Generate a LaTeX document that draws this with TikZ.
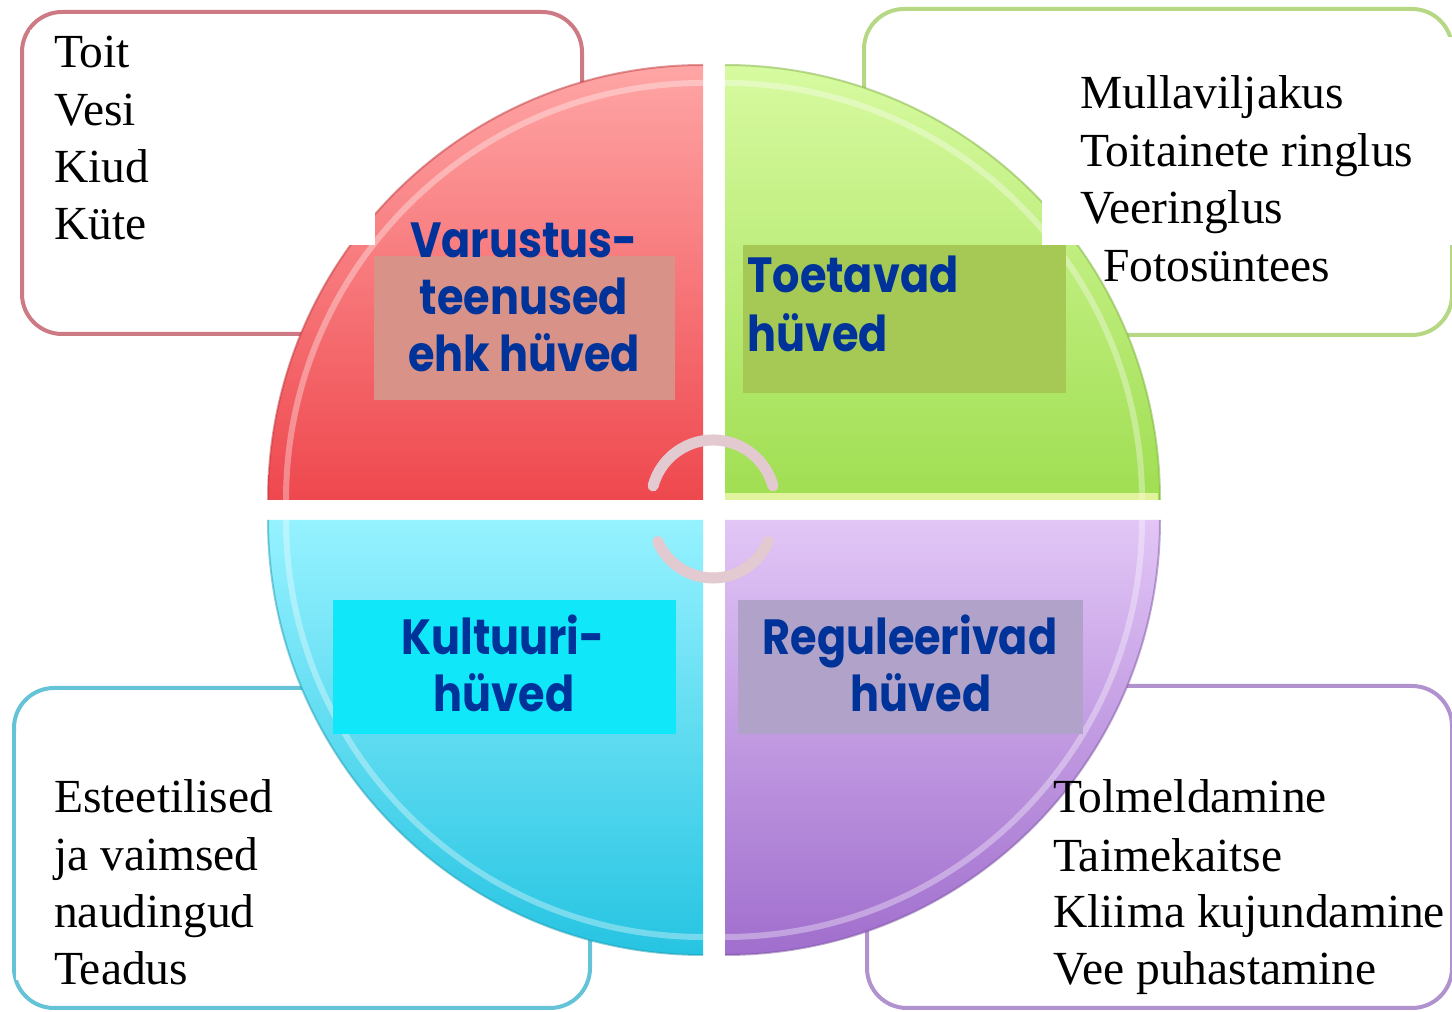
\documentclass[tikz,border=0pt]{standalone}
\usepackage{fontspec}
\setmainfont{Liberation Serif}
\newfontfamily\labelfont{Poppins}
\definecolor{labblue}{RGB}{0,51,153}
\definecolor{redtop}{RGB}{255,165,165}
\definecolor{redbot}{RGB}{238,72,78}
\definecolor{greentop}{RGB}{215,250,160}
\definecolor{greenbot}{RGB}{160,222,82}
\definecolor{cyantop}{RGB}{150,242,255}
\definecolor{cyanbot}{RGB}{38,196,226}
\definecolor{purptop}{RGB}{226,198,246}
\definecolor{purpbot}{RGB}{160,110,205}
\definecolor{redframe}{RGB}{205,122,132}
\definecolor{greenframe}{RGB}{182,216,132}
\definecolor{cyanframe}{RGB}{100,195,215}
\definecolor{purpframe}{RGB}{176,146,206}
\definecolor{redlab}{RGB}{217,146,136}
\definecolor{greenlab}{RGB}{166,201,86}
\definecolor{cyanlab}{RGB}{16,232,250}
\definecolor{purplab}{RGB}{176,162,200}
\definecolor{arrowcol}{RGB}{226,202,208}
\newcommand{\labtall}[1]{\scalebox{1}[1.15]{#1}}
\tikzset{
  itemtext/.style={font=\fontsize{47.5}{57}\selectfont, anchor=base west, inner sep=0pt, text=black},
  labtext/.style={font=\labelfont\bfseries\fontsize{43}{52}\selectfont, text=labblue, inner sep=0pt},
  framebox/.style={line width=4pt, rounded corners=40pt, fill=white},
  patch/.style={fill=white, draw=none},
  rim/.style={line width=6pt, white, opacity=0.35},
  cyclearc/.style={line width=11pt, arrowcol, line cap=round},
}
\begin{document}
\begin{tikzpicture}[x=1pt,y=1pt]
\useasboundingbox (0,0) rectangle (1452,1012);
\fill[white] (0,0) rectangle (1452,1012);
% frames
\draw[framebox, draw=redframe] (22,678) rectangle (582,1000);
\draw[framebox, draw=greenframe] (864,677) rectangle (1452,1003);
\draw[framebox, draw=cyanframe] (14,4) rectangle (590,324);
\draw[framebox, draw=purpframe] (867,4) rectangle (1452,326);
% quadrants
\shade[top color=redtop, bottom color=redbot] (703,512) -- (268,512) arc[start angle=180, end angle=90, radius=435] -- cycle;
\shade[top color=greentop, bottom color=greenbot] (725,512) -- (1160,512) arc[start angle=0, end angle=90, radius=435] -- cycle;
\shade[top color=cyantop, bottom color=cyanbot] (703,492) -- (268,492) arc[start angle=180, end angle=270, radius=435] -- cycle;
\shade[top color=purptop, bottom color=purpbot] (725,492) -- (1160,492) arc[start angle=0, end angle=-90, radius=435] -- cycle;
% rims
\draw[redbot!80!black, line width=2pt, opacity=0.5] (268,512) arc[start angle=180, end angle=90, radius=435];
\draw[greenbot!80!black, line width=2pt, opacity=0.5] (1160,512) arc[start angle=0, end angle=90, radius=435];
\draw[cyanbot!80!black, line width=2pt, opacity=0.5] (268,492) arc[start angle=180, end angle=270, radius=435];
\draw[purpbot!80!black, line width=2pt, opacity=0.5] (1160,492) arc[start angle=0, end angle=-90, radius=435];
\draw[rim] (286,512) arc[start angle=180, end angle=90, radius=417];
\draw[rim] (1142,512) arc[start angle=0, end angle=90, radius=417];
\draw[rim] (286,492) arc[start angle=180, end angle=270, radius=417];
\draw[rim] (1142,492) arc[start angle=0, end angle=-90, radius=417];
\fill[yellow!25!white, opacity=0.7] (725,512) rectangle (1158,519);
% central cycle arcs
\draw[cyclearc] (713,510) ++(165:62) arc[start angle=165, end angle=15, radius=62];
\draw[cyclearc] (713,494) ++(203:60) arc[start angle=203, end angle=337, radius=60];
% white patches
\fill[patch] (30,767) rectangle (375,982);
\fill[patch] (1042,767) rectangle (1452,975);
\fill[patch] (16,32) rectangle (291,279);
% label backgrounds
\fill[redlab] (374,612) rectangle (675,756);
\fill[greenlab] (743,619) rectangle (1066,767);
\fill[cyanlab] (333,278) rectangle (676,412);
\fill[purplab] (738,278) rectangle (1083,412);
% label texts
\node[labtext, anchor=base] (r1) at (524,754) {\labtall{Varustus-}};
\node[labtext, anchor=base] (r2) at (524,697) {\labtall{teenused}};
\node[labtext, anchor=base] (r3) at (524,640) {\labtall{ehk hüved}};
\node[labtext, anchor=base west] (g1) at (747,719) {\labtall{Toetavad}};
\node[labtext, anchor=base west] (g2) at (747,660) {\labtall{hüved}};
\node[labtext, anchor=base] (c1) at (503,357) {\labtall{Kultuuri-}};
\node[labtext, anchor=base] (c2) at (504,300) {\labtall{hüved}};
\node[labtext, anchor=base] (p1) at (910,357) {\labtall{Reguleerivad}};
\node[labtext, anchor=base] (p2) at (921,300) {\labtall{hüved}};
% item texts
\node[itemtext] (tl1) at (54,944) {Toit};
\node[itemtext] (tl2) at (54,886) {Vesi};
\node[itemtext] (tl3) at (54,829) {Kiud};
\node[itemtext] (tl4) at (54,772) {Küte};
\node[itemtext] (tr1) at (1080,903) {Mullaviljakus};
\node[itemtext] (tr2) at (1080,845) {Toitainete ringlus};
\node[itemtext] (tr3) at (1080,788) {Veeringlus};
\node[itemtext] (tr4) at (1103,730) {Fotosüntees};
\node[itemtext] (bl1) at (54,199) {Esteetilised};
\node[itemtext] (bl2) at (54,141) {ja vaimsed};
\node[itemtext] (bl3) at (54,84) {naudingud};
\node[itemtext] (bl4) at (54,27) {Teadus};
\node[itemtext] (br1) at (1053,199) {Tolmeldamine};
\node[itemtext] (br2) at (1053,140) {Taimekaitse};
\node[itemtext] (br3) at (1053,84) {Kliima kujundamine};
\node[itemtext] (br4) at (1053,27) {Vee puhastamine};
\end{tikzpicture}
\end{document}
